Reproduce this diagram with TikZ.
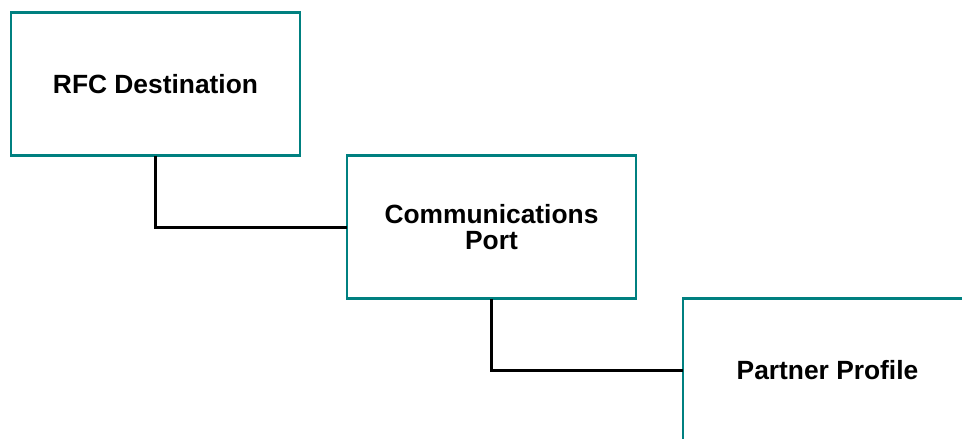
\documentclass[tikz,border=0pt]{standalone}
\usepackage{fontspec}
\setmainfont{Liberation Sans}
\usepackage{xcolor}
\definecolor{sapteal}{RGB}{0,128,128}
\usetikzlibrary{positioning}
\tikzset{
  stage/.style={
    rectangle, draw=sapteal, fill=white, line width=1.7pt,
    minimum width=5.78cm, minimum height=2.86cm, outer sep=0pt,
    text centered, align=center,
    font=\fontsize{15}{14.7}\selectfont\bfseries
  },
  link/.style={line width=1.3pt, draw=black},
}
\begin{document}
\begin{tikzpicture}[node distance=0cm and 0.94cm]
  \clip (0,0) rectangle (19.24,8.78);
  \node (rfc)     [stage] at (3.11,7.09)          {RFC Destination};
  \node (port)    [stage, below right=of rfc]     {Communications\\Port};
  \node (partner) [stage, below right=of port]    {Partner Profile};

  \draw [link] (rfc.south)  |- (port.west);
  \draw [link] (port.south) |- (partner.west);
\end{tikzpicture}
\end{document}
